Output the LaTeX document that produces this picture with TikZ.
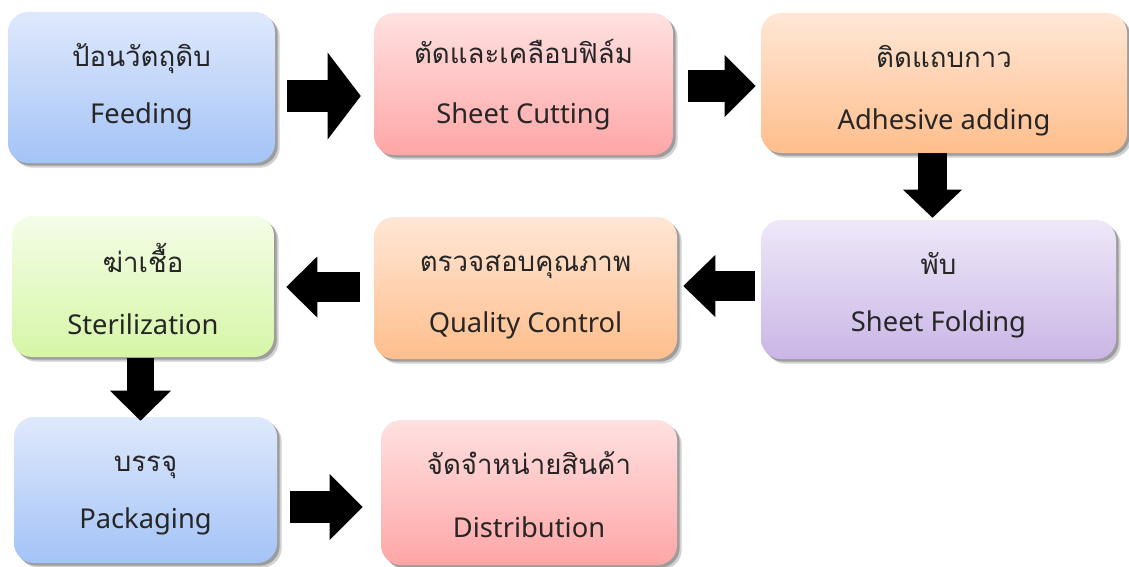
\documentclass[tikz,border=0pt]{standalone}
\usepackage{fontspec}
\setmainfont{Noto Sans}
\newfontfamily\thai[Script=Thai,Scale=1.01]{Loma}
\usetikzlibrary{arrows.meta,fit,shadows}

\definecolor{blueTop}{RGB}{223,233,252}
\definecolor{blueBot}{RGB}{164,195,247}
\definecolor{pinkTop}{RGB}{255,225,225}
\definecolor{pinkBot}{RGB}{255,166,166}
\definecolor{peachTop}{RGB}{255,231,214}
\definecolor{peachBot}{RGB}{255,190,140}
\definecolor{lilacTop}{RGB}{238,232,248}
\definecolor{lilacBot}{RGB}{202,182,230}
\definecolor{limeTop}{RGB}{244,253,232}
\definecolor{limeBot}{RGB}{214,246,166}

\tikzset{
  stepbox/.style={rounded corners=15pt, inner sep=0pt,
    drop shadow={shadow xshift=3.5pt, shadow yshift=-3.5pt, opacity=0.18, fill=black},
    drop shadow={shadow xshift=2pt, shadow yshift=-2pt, opacity=0.25, fill=black}},
  steptext/.style={align=center, inner sep=0pt, yshift=#1,
    font=\fontsize{20.5}{43}\selectfont, text=black!85},
  steptext/.default=-7pt,
  fatarrow/.style={line width=#1, line cap=butt},
}

\begin{document}
\begin{tikzpicture}[x=0.75pt,y=-0.75pt]
  \useasboundingbox (0,0) rectangle (1129,567);
  % first row
  \node[stepbox, top color=blueTop, bottom color=blueBot, fit={(8,12) (275,163)},
    label={[steptext=0.5pt]center:{\thai ป้อนวัตถุดิบ}\\Feeding}] (feed) {};
  \node[stepbox, top color=pinkTop, bottom color=pinkBot, fit={(374,13) (673,155)},
    label={[steptext=-0.5pt]center:{\thai ตัดและเคลือบฟิล์ม}\\[2pt]Sheet Cutting}] (cut) {};
  \node[stepbox, top color=peachTop, bottom color=peachBot, fit={(761,13) (1127,153)},
    label={[steptext=-5.8pt]center:{\thai ติดแถบกาว}\\[4pt]Adhesive adding}] (glue) {};
  % second row
  \node[stepbox, top color=lilacTop, bottom color=lilacBot, fit={(761,220) (1116,359)},
    label={[steptext=-4.4pt]center:{\thai พับ}\\Sheet Folding}] (fold) {};
  \node[stepbox, top color=peachTop, bottom color=peachBot, fit={(374,217) (677,359)},
    label={[steptext]center:{\thai ตรวจสอบคุณภาพ}\\[3pt]Quality Control}] (qc) {};
  \node[stepbox, top color=limeTop, bottom color=limeBot, fit={(12,216) (274,357)},
    label={[steptext=-1.8pt]center:{\thai ฆ่าเชื้อ}\\[4pt]Sterilization}] (steril) {};
  % third row
  \node[stepbox, top color=blueTop, bottom color=blueBot, fit={(14,417) (277,563)},
    label={[steptext=-4pt]center:{\thai บรรจุ}\\Packaging}] (pack) {};
  \node[stepbox, top color=pinkTop, bottom color=pinkBot, fit={(381,420) (677,565)},
    label={[steptext=-1.8pt]center:{\thai จัดจำหน่ายสินค้า}\\[4pt]Distribution}] (dist) {};

  % block arrows
  \draw[fatarrow=24pt, -{Triangle[length=24.75pt, width=65pt, line width=0pt]}]
    ([shift={(12,8.5)}]feed.east) -- ([shift={(-13,8.5)}]feed.east -| cut.west);
  \draw[fatarrow=24pt, -{Triangle[length=23.25pt, width=46.5pt, line width=0pt]}]
    ([shift={(15,2)}]cut.east) -- ([shift={(-5,2)}]cut.east -| glue.west);
  \draw[fatarrow=21.75pt, -{Triangle[length=21pt, width=44.25pt, line width=0pt]}]
    ([shift={(-11.5,0)}]glue.south) -- ([shift={(-11.5,-2)}]glue.south |- fold.north);
  \draw[fatarrow=22.5pt, -{Triangle[length=24pt, width=46.5pt, line width=0pt]}]
    ([shift={(-6,-3.5)}]fold.west) -- ([shift={(6,-3.5)}]fold.west -| qc.east);
  \draw[fatarrow=22.5pt, -{Triangle[length=23.25pt, width=45.75pt, line width=0pt]}]
    ([shift={(-14,-1)}]qc.west) -- ([shift={(12,-1)}]qc.west -| steril.east);
  \draw[fatarrow=20.25pt, -{Triangle[length=22.5pt, width=45.75pt, line width=0pt]}]
    ([shift={(-2.5,1)}]steril.south) -- ([shift={(-2.5,4)}]steril.south |- pack.north);
  \draw[fatarrow=24pt, -{Triangle[length=24.75pt, width=49.5pt, line width=0pt]}]
    ([shift={(13,17)}]pack.east) -- ([shift={(-18,17)}]pack.east -| dist.west);
\end{tikzpicture}
\end{document}
